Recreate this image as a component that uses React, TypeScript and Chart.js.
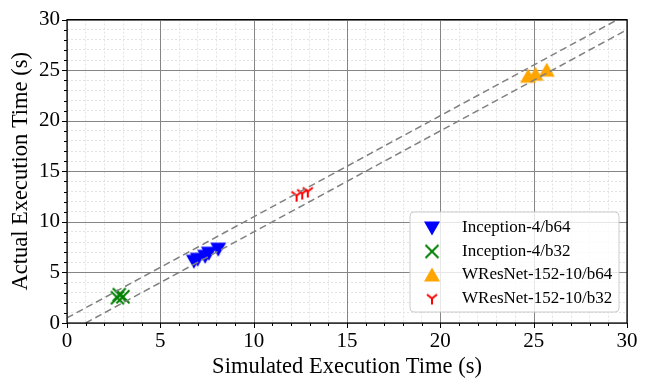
import React, { useEffect, useRef } from 'react';
import { Chart, registerables } from 'chart.js';
Chart.register(...registerables);

const seriesNames = ['Inception-4/b64', 'Inception-4/b32', 'WResNet-152-10/b64', 'WResNet-152-10/b32'];
const seriesColors = ['#0000ff', '#008000', '#ffa500', '#ff0000'];
const inc64X = [6.8, 7.0, 7.4, 7.6, 8.1];
const inc64Y = [6.1, 6.3, 6.6, 6.9, 7.3];
const inc32X = [2.7, 2.8, 3.0];
const inc32Y = [2.5, 2.8, 2.6];
const wrn64X = [24.7, 25.1, 25.7];
const wrn64Y = [24.4, 24.6, 25.0];
const wrn32X = [12.3, 12.6, 12.9];
const wrn32Y = [12.6, 12.8, 13.0];
const upperRefX = [0, 30];
const upperRefY = [0.5, 30.5];
const lowerRefX = [1, 30];
const lowerRefY = [0, 29];
const axisTicks = [0, 5, 10, 15, 20, 25, 30];

const FONT = '"Liberation Serif", "DejaVu Serif", serif';

function makeMarker(kind: string, color: string): HTMLCanvasElement {
  const s = 20;
  const c = document.createElement('canvas');
  c.width = s; c.height = s;
  const g = c.getContext('2d')!;
  const m = s / 2;
  g.fillStyle = color; g.strokeStyle = color;
  if (kind === 'down') {
    g.beginPath(); g.moveTo(m - 8, m - 6.5); g.lineTo(m + 8, m - 6.5); g.lineTo(m, m + 7.5); g.closePath(); g.fill();
  } else if (kind === 'up') {
    g.beginPath(); g.moveTo(m - 8, m + 6.5); g.lineTo(m + 8, m + 6.5); g.lineTo(m, m - 7.5); g.closePath(); g.fill();
  } else if (kind === 'x') {
    g.lineWidth = 2;
    g.beginPath(); g.moveTo(m - 6.5, m - 6.5); g.lineTo(m + 6.5, m + 6.5); g.moveTo(m + 6.5, m - 6.5); g.lineTo(m - 6.5, m + 6.5); g.stroke();
  } else {
    g.lineWidth = 2;
    g.beginPath(); g.moveTo(m, m); g.lineTo(m, m + 6); g.moveTo(m, m); g.lineTo(m - 5, m - 4); g.moveTo(m, m); g.lineTo(m + 5, m - 4); g.stroke();
  }
  return c;
}

function pts(xs: number[], ys: number[]) { return xs.map((x, i) => ({ x, y: ys[i] })); }

export default function App() {
  const ref = useRef<HTMLCanvasElement>(null);
  useEffect(() => {
    document.body.style.margin = '0';
    const markers = [
      makeMarker('down', seriesColors[0]),
      makeMarker('x', seriesColors[1]),
      makeMarker('up', seriesColors[2]),
      makeMarker('y', seriesColors[3]),
    ];
    const frame = {
      id: 'frame',
      beforeDatasetsDraw(chart: any) {
        const { ctx, chartArea: a, scales } = chart;
        ctx.save();
        ctx.strokeStyle = '#858585'; ctx.lineWidth = 1;
        axisTicks.forEach((v) => {
          const px = Math.round(scales.x.getPixelForValue(v)) + 0.5;
          ctx.beginPath(); ctx.moveTo(px, a.top); ctx.lineTo(px, a.bottom); ctx.stroke();
          const py = Math.round(scales.y.getPixelForValue(v)) + 0.5;
          ctx.beginPath(); ctx.moveTo(a.left, py); ctx.lineTo(a.right, py); ctx.stroke();
        });
        ctx.restore();
      },
      afterDraw(chart: any) {
        const { ctx, chartArea: a, scales } = chart;
        const xs = scales.x, ys = scales.y;
        ctx.save();
        ctx.strokeStyle = '#000'; ctx.lineWidth = 1.2;
        ctx.strokeRect(a.left, a.top, a.right - a.left, a.bottom - a.top);
        ctx.lineWidth = 1;
        for (let v = 0; v <= 30; v++) {
          const len = v % 5 === 0 ? 5 : 3;
          const px = Math.round(xs.getPixelForValue(v)) + 0.5;
          ctx.beginPath(); ctx.moveTo(px, a.bottom); ctx.lineTo(px, a.bottom + len); ctx.stroke();
          const py = Math.round(ys.getPixelForValue(v)) + 0.5;
          ctx.beginPath(); ctx.moveTo(a.left, py); ctx.lineTo(a.left - len, py); ctx.stroke();
        }
        // legend
        const lx = 410, ly = 212, lw = 209, lh = 100, r = 4;
        ctx.fillStyle = 'rgba(255,255,255,0.8)';
        ctx.strokeStyle = '#cccccc';
        ctx.lineWidth = 1;
        ctx.beginPath();
        ctx.moveTo(lx + r, ly); ctx.lineTo(lx + lw - r, ly); ctx.quadraticCurveTo(lx + lw, ly, lx + lw, ly + r);
        ctx.lineTo(lx + lw, ly + lh - r); ctx.quadraticCurveTo(lx + lw, ly + lh, lx + lw - r, ly + lh);
        ctx.lineTo(lx + r, ly + lh); ctx.quadraticCurveTo(lx, ly + lh, lx, ly + lh - r);
        ctx.lineTo(lx, ly + r); ctx.quadraticCurveTo(lx, ly, lx + r, ly); ctx.closePath();
        ctx.fill(); ctx.stroke();
        ctx.fillStyle = '#000';
        ctx.font = '17px ' + FONT;
        ctx.textBaseline = 'middle';
        ctx.textAlign = 'left';
        seriesNames.forEach((n, i) => {
          const y = 228 + i * 23.5;
          ctx.drawImage(markers[i], 432 - 10, y - 10);
          ctx.fillText(n, 462, y);
        });
        ctx.restore();
      },
    };
    const gridColor = (c: any) => (c.tick && c.tick.value % 5 === 0 ? 'rgba(0,0,0,0)' : '#e3e3e3');
    const tickCb = (v: any) => (axisTicks.includes(Number(v)) ? String(v) : '');
    const chart = new Chart(ref.current!, {
      type: 'scatter',
      data: {
        datasets: [
          { type: 'line', data: pts(upperRefX, upperRefY), borderColor: '#808080', borderWidth: 1.5, borderDash: [7, 4], pointRadius: 0, order: 0 } as any,
          { type: 'line', data: pts(lowerRefX, lowerRefY), borderColor: '#808080', borderWidth: 1.5, borderDash: [7, 4], pointRadius: 0, order: 0 } as any,
          { label: seriesNames[0], data: pts(inc64X, inc64Y), pointStyle: markers[0], order: 1 },
          { label: seriesNames[1], data: pts(inc32X, inc32Y), pointStyle: markers[1], order: 1 },
          { label: seriesNames[2], data: pts(wrn64X, wrn64Y), pointStyle: markers[2], order: 1 },
          { label: seriesNames[3], data: pts(wrn32X, wrn32Y), pointStyle: markers[3], order: 1 },
        ],
      },
      options: {
        responsive: false,
        animation: false,
        layout: { padding: { top: 15, right: 22, left: 0, bottom: 0 } },
        plugins: { legend: { display: false }, tooltip: { enabled: false } },
        scales: {
          x: {
            type: 'linear', min: 0, max: 30,
            afterFit: (s: any) => { s.height = 58; },
            grid: { color: gridColor, drawTicks: false, lineWidth: 1 },
            border: { display: false, dash: [2, 2] },
            ticks: { stepSize: 1, autoSkip: false, maxRotation: 0, callback: tickCb, color: '#000', padding: 6, font: { family: FONT, size: 21 } },
            title: { display: true, text: 'Simulated Execution Time (s)', color: '#000', font: { family: FONT, size: 22.5 }, padding: { top: 0, bottom: 0 } },
          },
          y: {
            type: 'linear', min: 0, max: 30,
            afterFit: (s: any) => { s.width = 67; },
            grid: { color: gridColor, drawTicks: false, lineWidth: 1 },
            border: { display: false, dash: [2, 2] },
            ticks: { stepSize: 1, autoSkip: false, callback: tickCb, color: '#000', padding: 7, font: { family: FONT, size: 21 } },
            title: { display: true, text: 'Actual Execution Time (s)', color: '#000', font: { family: FONT, size: 22.5 }, padding: { top: 8, bottom: 0 } },
          },
        },
      },
      plugins: [frame],
    });
    return () => chart.destroy();
  }, []);
  return <canvas ref={ref} width={649} height={381} style={{ display: 'block' }} />;
}
